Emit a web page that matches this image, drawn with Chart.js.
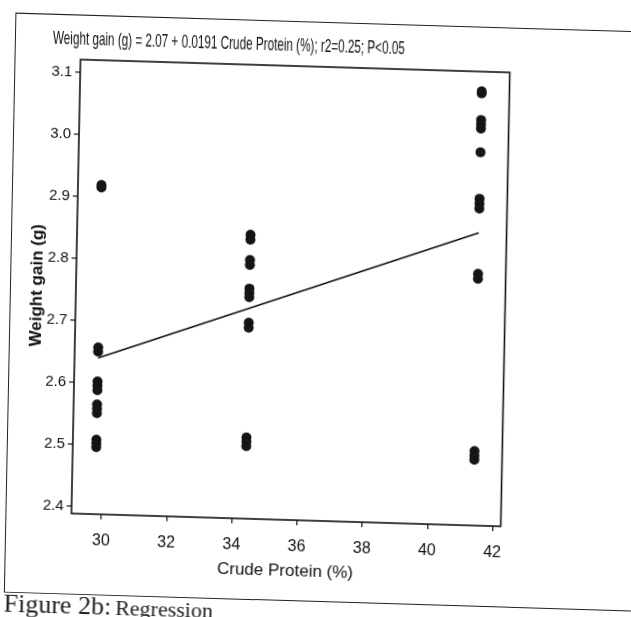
<!DOCTYPE html>
<html>
<head>
<meta charset="utf-8">
<script src="https://cdn.jsdelivr.net/npm/chart.js@4.4.1/dist/chart.umd.min.js"></script>
<style>
  html, body { margin: 0; padding: 0; background: #fff; overflow: hidden; }
  #page {
    position: relative; width: 631px; height: 617px;
    transform: matrix(1, 0.03, -0.02, 1, 0, 0);
    transform-origin: 290px 293px;
  }
  #frame {
    position: absolute; left: 10px; top: 21px; width: 700px; height: 578px;
    border: 1.5px solid #222;
  }
  #box { position: absolute; left: 0; top: 0; width: 631px; height: 617px; }
  #caption {
    position: absolute; left: 10px; top: 597px; white-space: nowrap;
    font-family: "Liberation Serif", "DejaVu Serif", serif; color: #222;
  }
  #caption .lead { font-size: 26px; }
  #caption .rest { font-size: 22px; }
</style>
</head>
<body>
<div id="page">
  <div id="frame"></div>
  <div id="box"><canvas id="chart"></canvas></div>
  <div id="caption"><span class="lead">Figure 2b:</span> <span class="rest">Regression</span></div>
</div>
<script>
// protein levels fed (x) and the gains
const proteinLevels = [29.8, 34.4, 41.4];
const gainLow = [2.919, 2.915, 2.657, 2.650, 2.602, 2.595, 2.588, 2.565, 2.558, 2.551, 2.508, 2.502, 2.496];
const gainMid = [2.846, 2.838, 2.805, 2.797, 2.759, 2.752, 2.745, 2.704, 2.696, 2.519, 2.512, 2.505];
const gainHigh = [3.088, 3.085, 3.042, 3.035, 3.028, 2.99, 2.915, 2.907, 2.899, 2.794, 2.786, 2.508, 2.501, 2.494];

// fitted line ends
const lineX = [29.8, 41.4];
const lineY = [2.64, 2.86];

const xTicks = [30, 32, 34, 36, 38, 40, 42];
const yTicks = [2.4, 2.5, 2.6, 2.7, 2.8, 2.9, 3.0, 3.1];

const equationText = 'Weight gain (g) = 2.07 + 0.0191 Crude Protein (%); r2=0.25; P<0.05';
const xTitle = 'Crude Protein (%)';
const yTitle = 'Weight gain (g)';

const narrow = '"Liberation Sans Narrow", "Liberation Sans", Arial, sans-serif';

document.addEventListener('DOMContentLoaded', () => {
    const groups = [gainLow, gainMid, gainHigh];
    const points = [];
    groups.forEach((g, i) => {
        g.forEach(v => points.push({x: proteinLevels[i], y: v}));
    });

    // box round the plot + the equation over it
    const plotFrame = {
        id: 'plotFrame',
        afterDraw(chart) {
            const {ctx, chartArea: a} = chart;
            ctx.save();
            ctx.strokeStyle = '#111';
            ctx.lineWidth = 1.6;
            ctx.strokeRect(a.left, a.top, a.right - a.left, a.bottom - a.top);

            ctx.font = '19px ' + narrow;
            ctx.fillStyle = '#111';
            ctx.textBaseline = 'middle';
            const w = ctx.measureText(equationText).width;
            ctx.translate(a.left - 28, a.top - 20);
            ctx.scale(Math.min(1, 352 / w), 1);
            ctx.fillText(equationText, 0, 0);
            ctx.restore();
        }
    };

    const ctx = document.getElementById('chart').getContext('2d');
    new Chart(ctx, {
        type: 'scatter',
        data: {
            datasets: [{
                data: points,
                backgroundColor: '#151515',
                borderWidth: 0,
                pointRadius: 5
            }, {
                type: 'line',
                data: lineX.map((x, i) => ({x: x, y: lineY[i]})),
                borderColor: '#111',
                borderWidth: 1.5,
                pointRadius: 0,
                fill: false
            }]
        },
        options: {
            responsive: true,
            maintainAspectRatio: false,
            animation: false,
            layout: {padding: {left: 20, right: 125.5, top: 66, bottom: 27}},
            plugins: {legend: {display: false}, tooltip: {enabled: false}},
            scales: {
                x: {
                    type: 'linear',
                    min: 29.08, max: 42.25,
                    afterBuildTicks: s => { s.ticks = xTicks.map(v => ({value: v})); },
                    afterFit: s => { s.height = 70; },
                    grid: {drawOnChartArea: false, tickLength: 5, color: '#111', lineWidth: 1.2},
                    border: {display: false},
                    ticks: {color: '#111', padding: 12, font: {size: 16, family: narrow}},
                    title: {display: true, text: xTitle, color: '#111',
                        font: {size: 17, family: narrow}, padding: {top: 0, bottom: 8}}
                },
                y: {
                    min: 2.388, max: 3.12,
                    afterBuildTicks: s => { s.ticks = yTicks.map(v => ({value: v})); },
                    afterFit: s => { s.width = 56; },
                    grid: {drawOnChartArea: false, tickLength: 5, color: '#111', lineWidth: 1.2},
                    border: {display: false},
                    ticks: {color: '#111', padding: 3, font: {size: 15, family: narrow},
                        callback: v => v.toFixed(1)},
                    title: {display: true, text: yTitle, color: '#111',
                        font: {size: 17, weight: 'bold', family: '"Liberation Sans", Arial, sans-serif'},
                        padding: {top: 7, bottom: 0}}
                }
            }
        },
        plugins: [plotFrame]
    });
});
</script>
</body>
</html>
